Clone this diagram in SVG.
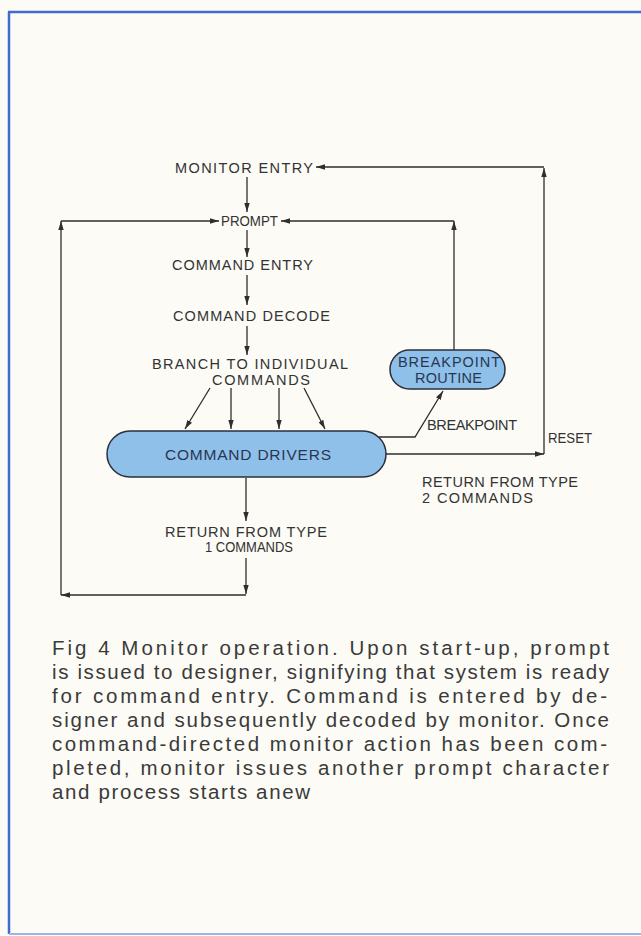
<svg xmlns="http://www.w3.org/2000/svg" width="641" height="936" viewBox="0 0 641 936">
<defs>
<marker id="ah" viewBox="0 0 10 6" refX="10" refY="3" markerWidth="9" markerHeight="5.4" markerUnits="userSpaceOnUse" orient="auto">
<path d="M0,0 L10,3 L0,6 Z" fill="#2e2e2e"/>
</marker>
<style>
.lbl{font-family:"Liberation Sans","DejaVu Sans",sans-serif;font-size:14.5px;fill:#333;}
.pl{font-family:"Liberation Sans","DejaVu Sans",sans-serif;font-size:14.5px;fill:#2a3650;}
.big{font-size:15.5px;}
.cap{font-family:"Liberation Sans",Arial,sans-serif;font-size:20.5px;fill:#3a3a3a;}
.ln{fill:none;stroke:#2e2e2e;stroke-width:1.3;}
.ar{fill:none;stroke:#2e2e2e;stroke-width:1.3;marker-end:url(#ah);}
.pill{fill:#8ec0ea;stroke:#2a2f3a;stroke-width:1.5;}
</style>
</defs>
<rect x="0" y="0" width="641" height="936" fill="#fcfbf5"/>
<g id="border" fill="none" stroke="#3d6dd0" stroke-width="2.5">
<line x1="8" y1="12" x2="641" y2="12"/>
<line x1="9" y1="12" x2="9" y2="934"/>
<line x1="9" y1="934" x2="641" y2="934" stroke="#9bb6e6" stroke-width="2"/>
</g>

<g id="connectors">
<line class="ar" x1="247" y1="177" x2="247" y2="212"/>
<line class="ar" x1="247" y1="230" x2="247" y2="257"/>
<line class="ar" x1="247" y1="275" x2="247" y2="305"/>
<line class="ar" x1="247" y1="326" x2="247" y2="355"/>
<line class="ar" x1="210" y1="388" x2="185" y2="429"/>
<line class="ar" x1="231" y1="388" x2="231" y2="429"/>
<line class="ar" x1="279" y1="388" x2="279" y2="429"/>
<line class="ar" x1="304" y1="388" x2="325" y2="429"/>
<line class="ar" x1="246" y1="478" x2="246" y2="521"/>
<line class="ar" x1="246" y1="558" x2="246" y2="594"/>
<line class="ar" x1="246" y1="595" x2="61" y2="595"/>
<line class="ar" x1="61" y1="595" x2="61" y2="221"/>
<line class="ar" x1="61" y1="221" x2="219" y2="221"/>
<line class="ar" x1="454" y1="350" x2="454" y2="221"/>
<line class="ar" x1="454" y1="221" x2="281" y2="221"/>
<line class="ar" x1="386" y1="454" x2="544" y2="454"/>
<line class="ar" x1="544" y1="454" x2="544" y2="168"/>
<line class="ar" x1="544" y1="167" x2="316" y2="167"/>
<polyline class="ar" points="379,437 415,437 443,391"/>
</g>

<g id="monitor-entry"><text class="lbl" x="175" y="173" textLength="138" lengthAdjust="spacing">MONITOR ENTRY</text></g>
<g id="prompt"><text class="lbl" x="221" y="226" textLength="57" lengthAdjust="spacingAndGlyphs">PROMPT</text></g>
<g id="command-entry"><text class="lbl" x="172" y="270" textLength="141" lengthAdjust="spacing">COMMAND ENTRY</text></g>
<g id="command-decode"><text class="lbl" x="173" y="321" textLength="157" lengthAdjust="spacing">COMMAND DECODE</text></g>
<g id="branch">
<text class="lbl" x="152" y="369" textLength="196" lengthAdjust="spacing">BRANCH TO INDIVIDUAL</text>
<text class="lbl" x="212" y="385" textLength="98" lengthAdjust="spacing">COMMANDS</text>
</g>
<g id="command-drivers">
<rect class="pill" x="107" y="431" width="279" height="46" rx="23" ry="23"/>
<text class="pl big" x="165" y="460" textLength="166" lengthAdjust="spacing">COMMAND DRIVERS</text>
</g>
<g id="breakpoint-routine">
<rect class="pill" x="390" y="350" width="115" height="39" rx="19.5" ry="19.5"/>
<text class="pl" x="398" y="367" textLength="102" lengthAdjust="spacing">BREAKPOINT</text>
<text class="pl" x="415" y="383" textLength="67" lengthAdjust="spacing">ROUTINE</text>
</g>
<g id="return-1">
<text class="lbl" x="165" y="537" textLength="162" lengthAdjust="spacing">RETURN FROM TYPE</text>
<text class="lbl" x="205" y="552" textLength="88" lengthAdjust="spacingAndGlyphs">1 COMMANDS</text>
</g>
<g id="labels">
<text class="lbl" x="427" y="430" textLength="90" lengthAdjust="spacing">BREAKPOINT</text>
<text class="lbl" x="548" y="443" textLength="44" lengthAdjust="spacingAndGlyphs">RESET</text>
<text class="lbl" x="422" y="487" textLength="156" lengthAdjust="spacing">RETURN FROM TYPE</text>
<text class="lbl" x="422" y="503" textLength="111" lengthAdjust="spacing">2 COMMANDS</text>
</g>

<g id="caption">
<text class="cap" x="52" y="655" textLength="557" lengthAdjust="spacing">Fig 4  Monitor  operation.  Upon  start-up,  prompt</text>
<text class="cap" x="52" y="679" textLength="557" lengthAdjust="spacing">is issued to designer, signifying that system is ready</text>
<text class="cap" x="52" y="703" textLength="555" lengthAdjust="spacing">for command entry. Command is entered by de-</text>
<text class="cap" x="52" y="727" textLength="557" lengthAdjust="spacing">signer and subsequently decoded by monitor. Once</text>
<text class="cap" x="52" y="751" textLength="555" lengthAdjust="spacing">command-directed monitor action has been com-</text>
<text class="cap" x="52" y="775" textLength="557" lengthAdjust="spacing">pleted, monitor issues another prompt character</text>
<text class="cap" x="52" y="799" textLength="258" lengthAdjust="spacing">and process starts anew</text>
</g>
</svg>
